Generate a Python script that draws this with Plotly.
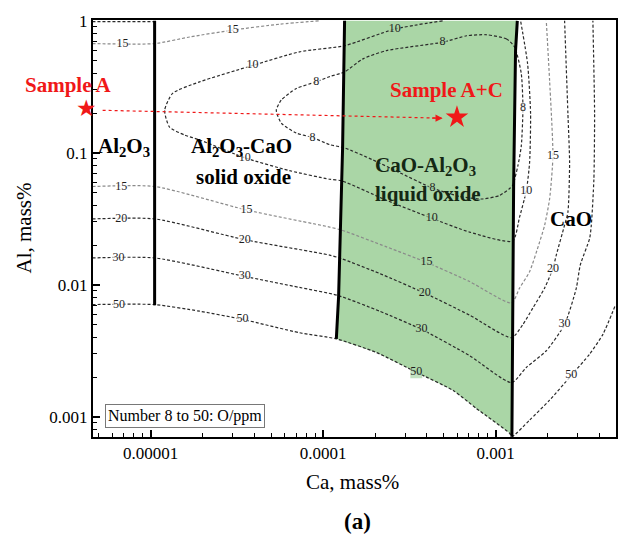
import numpy as np
import plotly.graph_objects as go

# ---------------- data (Ca, Al in mass%) ----------------
# phase boundaries
bnd_al2o3_ca = [1.055e-5, 1.055e-5]
bnd_al2o3_al = [1.0, 0.00701]
bnd_liq_left_ca = [1.332e-4, 1.297e-4, 1.230e-4, 1.193e-4]
bnd_liq_left_al = [1.0, 0.109, 0.00818, 0.0039]
bnd_liq_right_ca = [1.336e-3, 1.305e-3, 1.272e-3, 1.243e-3]
bnd_liq_right_al = [1.0, 0.595, 0.0563, 0.000709]

# iso-oxygen lines (O, ppm)
o8_ca = [1.288e-3, 1.158e-3, 8.867e-4, 6.791e-4, 4.93e-4, 2.334e-4, 1.701e-4, 1.332e-4, 1.091e-4,
         9.133e-5, 6.99e-5, 5.724e-5, 5.354e-5, 5.724e-5, 6.99e-5, 8.692e-5, 1.091e-4, 1.332e-4,
         1.936e-4, 2.776e-4, 4.313e-4, 6.185e-4, 8.408e-4, 1.055e-3, 1.206e-3, 1.255e-3, 1.347e-3,
         1.409e-3, 1.44e-3, 1.409e-3, 1.288e-3]
o8_al = [0.634, 0.728, 0.784, 0.770, 0.688, 0.595, 0.515, 0.410, 0.378, 0.345, 0.307, 0.251, 0.210,
         0.1679, 0.1412, 0.1306, 0.1154, 0.109, 0.0886, 0.0708, 0.054, 0.0468, 0.0447, 0.0476,
         0.0537, 0.0566, 0.0799, 0.1128, 0.2175, 0.398, 0.634]
o10_ca = [4.93e-4, 2.597e-4, 1.332e-4, 7.306e-5, 3.903e-5, 1.923e-5, 1.341e-5, 1.206e-5, 1.288e-5,
          1.574e-5, 1.923e-5, 3.506e-5, 6.393e-5, 1.091e-4, 1.28e-4, 2.334e-4, 4.256e-4, 7.069e-4,
          1.255e-3, 1.377e-3, 1.507e-3, 1.574e-3, 1.595e-3, 1.533e-3, 1.396e-3]
o10_al = [1.0, 0.865, 0.648, 0.582, 0.459, 0.345, 0.282, 0.210, 0.1566, 0.1364, 0.1252, 0.0918,
          0.0733, 0.0631, 0.0614, 0.0437, 0.0320, 0.0251, 0.0215, 0.0326, 0.0516, 0.0841, 0.1995,
          0.473, 1.0]
o15a_ca = [4.6e-6, 1.055e-5, 1.683e-5, 2.988e-5, 5.595e-5, 9.543e-5]
o15a_al = [0.672, 0.672, 0.754, 0.850, 0.943, 1.0]
o15b_ca = [4.6e-6, 1.055e-5, 3.601e-5, 1.091e-4, 1.28e-4, 2.334e-4, 3.981e-4, 7.069e-4, 1.238e-3,
           1.377e-3, 1.574e-3, 1.799e-3, 1.923e-3, 2.056e-3, 2.149e-3, 2.056e-3, 1.967e-3]
o15b_al = [0.0556, 0.0556, 0.0369, 0.0274, 0.026, 0.0194, 0.0148, 0.0106, 0.00729, 0.00945, 0.0126,
           0.0211, 0.0282, 0.0447, 0.0945, 0.354, 1.0]
o20_ca = [4.6e-6, 1.055e-5, 3.506e-5, 1.091e-4, 1.28e-4, 2.125e-4, 3.876e-4, 7.069e-4, 1.238e-3,
          1.44e-3, 1.645e-3, 1.923e-3, 2.149e-3, 2.248e-3, 2.512e-3, 2.625e-3, 2.685e-3, 2.625e-3,
          2.512e-3]
o20_al = [0.0316, 0.0316, 0.022, 0.0168, 0.0158, 0.0122, 0.00867, 0.0059, 0.00398, 0.00502, 0.00669,
          0.00945, 0.0133, 0.0168, 0.0284, 0.0355, 0.0841, 0.1995, 1.0]
o30_ca = [4.6e-6, 1.055e-5, 3.506e-5, 7.306e-5, 1.214e-4, 2.125e-4, 3.724e-4, 7.069e-4, 1.238e-3,
          1.507e-3, 1.967e-3, 2.512e-3, 2.937e-3, 3.097e-3, 3.506e-3, 3.587e-3, 3.714e-3, 3.748e-3,
          3.664e-3]
o30_al = [0.016, 0.016, 0.0116, 0.00956, 0.00833, 0.00632, 0.0046, 0.00291, 0.00182, 0.00237,
          0.00317, 0.00502, 0.00945, 0.01415, 0.0224, 0.0282, 0.0631, 0.1995, 1.0]
o50_ca = [4.6e-6, 1.055e-5, 1.923e-5, 3.414e-5, 7.306e-5, 1.193e-4, 2.034e-4, 3.469e-4, 5.656e-4,
          7.731e-4, 1.206e-3, 1.243e-3, 1.574e-3, 2.056e-3, 2.746e-3, 3.506e-3, 4.188e-3, 4.963e-3]
o50_al = [0.00709, 0.00709, 0.00632, 0.00548, 0.00434, 0.0039, 0.00308, 0.00218, 0.00159, 0.00116,
          0.000752, 0.000709, 0.000946, 0.00134, 0.00206, 0.00299, 0.00422, 0.00709]
otop_ca = [4.6e-6, 1.055e-5]
otop_al = [0.985, 0.985]

# contour labels
lab_text = ["15", "15", "20", "30", "50",
            "15", "10", "8", "8", "10", "15", "20", "30", "50",
            "10", "8", "8", "10", "15", "20", "30", "50",
            "8", "10", "15", "20", "30", "50"]
lab_ca = [6.88e-6, 6.76e-6, 6.76e-6, 6.52e-6, 6.55e-6,
          2.99e-5, 3.9e-5, 9.13e-5, 8.69e-5, 3.51e-5, 3.6e-5, 3.51e-5, 3.51e-5, 3.41e-5,
          2.6e-4, 4.93e-4, 4.31e-4, 4.26e-4, 3.98e-4, 3.88e-4, 3.72e-4, 3.47e-4,
          1.44e-3, 1.507e-3, 2.149e-3, 2.149e-3, 2.512e-3, 2.746e-3]
lab_al = [0.668, 0.0556, 0.0316, 0.016, 0.00709,
          0.85, 0.459, 0.345, 0.1306, 0.0918, 0.0369, 0.022, 0.0116, 0.00548,
          0.865, 0.688, 0.054, 0.032, 0.0148, 0.00867, 0.0046, 0.00218,
          0.2175, 0.0516, 0.0945, 0.0133, 0.00502, 0.00206]

# samples
sample_names = ["Sample A", "Sample A+C"]
sample_ca = [4.27e-6, 5.97e-4]
sample_al = [0.214, 0.186]
arrow_ca = [5.27e-6, 4.93e-4]
arrow_al = [0.210, 0.183]

# ---------------- styling ----------------
FONT = "Liberation Serif"
GREEN = "rgb(170,214,166)"
DARK = "rgb(42,42,42)"
GRAY = "rgb(138,138,138)"
RED = "rgb(240,24,24)"
TXT = "rgb(30,30,30)"
X_RANGE = [-5.334, -2.302]
Y_RANGE = [-3.152, 0.006]

fig = go.Figure()

# liquid region fill
o50c = np.array(o50_ca)
o50a = np.array(o50_al)
m = (o50c >= bnd_liq_left_ca[-1] * 0.999) & (o50c <= bnd_liq_right_ca[-1] * 1.001)
poly_ca = list(bnd_liq_left_ca) + list(o50c[m]) + list(bnd_liq_right_ca[::-1])
poly_al = list(bnd_liq_left_al) + list(o50a[m]) + list(bnd_liq_right_al[::-1])
fig.add_trace(go.Scatter(x=poly_ca, y=poly_al, fill="toself", fillcolor=GREEN,
                         line=dict(width=0), mode="lines", hoverinfo="skip"))

contours = [(o8_ca, o8_al, DARK), (o10_ca, o10_al, DARK), (o15a_ca, o15a_al, GRAY),
            (o15b_ca, o15b_al, GRAY), (o20_ca, o20_al, DARK), (o30_ca, o30_al, DARK),
            (o50_ca, o50_al, DARK), (otop_ca, otop_al, DARK)]
for cx, cy, col in contours:
    fig.add_trace(go.Scatter(x=cx, y=cy, mode="lines",
                             line=dict(color=col, width=1.2, dash="3px,2px", shape="spline",
                                       smoothing=0.6)))

# contour labels: background patch + text
lab_bg = [GREEN if (bnd_liq_left_ca[0] < c < bnd_liq_right_ca[-1]) else "white" for c in lab_ca]
lab_size = [12 if len(t) > 1 else 8 for t in lab_text]
fig.add_trace(go.Scatter(x=lab_ca, y=lab_al, mode="markers+text", text=lab_text,
                         textposition="middle center",
                         textfont=dict(family=FONT, size=12, color=TXT),
                         marker=dict(symbol="square", size=lab_size, color=lab_bg,
                                     line=dict(width=0))))

for bx, by in [(bnd_al2o3_ca, bnd_al2o3_al), (bnd_liq_left_ca, bnd_liq_left_al),
               (bnd_liq_right_ca, bnd_liq_right_al)]:
    fig.add_trace(go.Scatter(x=bx, y=by, mode="lines", line=dict(color="black", width=3)))

# red arrow line and in-range star
fig.add_trace(go.Scatter(x=arrow_ca, y=arrow_al, mode="lines",
                         line=dict(color=RED, width=1.2, dash="dot")))
fig.add_trace(go.Scatter(x=sample_ca[1:], y=sample_al[1:], mode="markers", cliponaxis=False,
                         marker=dict(symbol="star", size=17, color=RED, line=dict(width=0))))

ann = []
# arrow head
ann.append(dict(x=np.log10(arrow_ca[1]), y=np.log10(arrow_al[1]), xref="x", yref="y", text="",
                showarrow=True, ax=-12, ay=0, arrowhead=2, arrowsize=1.1, arrowwidth=1.3,
                arrowcolor=RED, standoff=0))

# Sample A star lies just left of the x range: place it through the axis mapping in paper units
sx = (np.log10(sample_ca[0]) - X_RANGE[0]) / (X_RANGE[1] - X_RANGE[0])
sy = (np.log10(sample_al[0]) - Y_RANGE[0]) / (Y_RANGE[1] - Y_RANGE[0])
ann.append(dict(x=sx, y=sy, xref="paper", yref="paper", xanchor="center", yanchor="middle",
                text="\u2605", showarrow=False, yshift=1,
                font=dict(family="DejaVu Sans", size=23, color=RED)))

L, R, T, B = 93, 616, 16, 437


def paper_text(t, px, py, size, color, angle=0, **kw):
    d = dict(x=(px - L) / (R - L), y=(B - py) / (B - T), xref="paper", yref="paper",
             xanchor="center", yanchor="middle", text=t, showarrow=False, textangle=angle,
             font=dict(family=FONT, size=size, color=color))
    d.update(kw)
    return d


region_labels = [
    ("Al<sub>2</sub>O<sub>3</sub>", 124, 144, "black"),
    ("Al<sub>2</sub>O<sub>3</sub>-CaO", 241, 144, "black"),
    ("solid oxide", 243, 175, "black"),
    ("CaO-Al<sub>2</sub>O<sub>3</sub>", 425, 163, "rgb(20,40,20)"),
    ("liquid oxide", 428, 192, "rgb(20,40,20)"),
    ("CaO", 571, 217, "black"),
]
for t, px, py, col in region_labels:
    ann.append(paper_text("<b>" + t + "</b>", px, py, 21, col))
for t, px, py in [("Sample A", 68, 82), ("Sample A+C", 446, 87)]:
    ann.append(paper_text("<b>" + t + "</b>", px, py, 21, RED))

ann.append(paper_text("Number 8 to 50: O/ppm", 185, 416, 16, "black", bgcolor="white",
                      bordercolor="rgb(120,120,120)", borderwidth=1, borderpad=2))
ann.append(paper_text("Ca, mass%", 352, 482, 21, "black"))
ann.append(paper_text("Al, mass%", 23, 226.5, 21, "black", angle=-90))
ann.append(paper_text("<b>(a)</b>", 357, 522, 23, "black"))

x_minor = [k * 1e-6 for k in range(5, 10)] + [k * 1e-5 for k in range(2, 10)] + \
          [k * 1e-4 for k in range(2, 10)] + [k * 1e-3 for k in range(2, 5)]
y_minor = [k * 1e-4 for k in range(7, 10)] + [k * 1e-3 for k in range(2, 10)] + \
          [k * 1e-2 for k in range(2, 10)] + [k * 1e-1 for k in range(2, 10)]

axis_common = dict(type="log", showgrid=False, zeroline=False, ticks="inside", ticklen=7,
                   tickwidth=1.5, tickcolor="black", linecolor="black", linewidth=2, mirror=True,
                   tickfont=dict(family=FONT, size=17, color="black"))
fig.update_layout(
    width=633, height=537, margin=dict(l=L, r=633 - R, t=T, b=537 - B),
    paper_bgcolor="white", plot_bgcolor="white", showlegend=False,
    font=dict(family=FONT, color="black"),
    xaxis=dict(axis_common, range=X_RANGE, tickmode="array",
               tickvals=[1e-5, 1e-4, 1e-3, 5e-3], ticktext=["0.00001", "0.0001", "0.001", "0.005"],
               minor=dict(tickmode="array", tickvals=x_minor, ticks="inside", ticklen=4,
                          tickwidth=1.2, tickcolor="black")),
    yaxis=dict(axis_common, range=Y_RANGE, tickmode="array",
               tickvals=[1e-3, 1e-2, 1e-1, 1], ticktext=["0.001", "0.01", "0.1", "1"],
               minor=dict(tickmode="array", tickvals=y_minor, ticks="inside", ticklen=4,
                          tickwidth=1.2, tickcolor="black")),
    annotations=ann,
)

fig.write_html("out.html")
